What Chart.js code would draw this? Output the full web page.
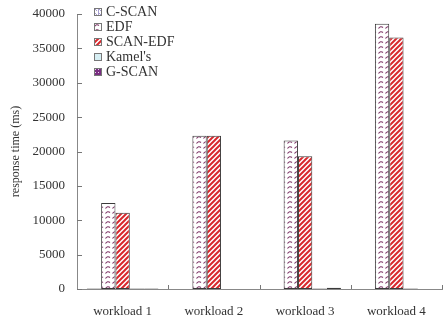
<!DOCTYPE html>
<html>
<head>
<meta charset="utf-8">
<script src="https://cdn.jsdelivr.net/npm/chart.js@4"></script>
<style>
  body { margin: 0; background: #fff; }
  #wrap { position: relative; width: 444px; height: 324px; }
  #legend { position: absolute; left: 94px; top: 4px; font: 14px "Liberation Serif", serif; color: #333; }
  #legend div { height: 15px; line-height: 15px; display: flex; align-items: center; }
  #legend canvas { width: 8px; height: 8px; margin-right: 4px; }
</style>
</head>
<body>
<div id="wrap">
  <canvas id="rtChart" width="444" height="324"></canvas>
  <div id="legend"></div>
</div>
<script>
// workloads and response times (ms) per scheduler
const workloads = ['workload 1', 'workload 2', 'workload 3', 'workload 4'];
const schedulers = ['C-SCAN', 'EDF', 'SCAN-EDF', "Kamel's", 'G-SCAN'];
const cscan = [80, 0, 0, 0];
const edf = [12500, 22300, 21600, 38600];
const scanEdf = [11100, 22300, 19300, 36600];
const kamels = [80, 0, 60, 60];
const gscan = [80, 0, 200, 0];
const yTicks = [0, 5000, 10000, 15000, 20000, 25000, 30000, 35000, 40000];

// small tile painters used for hatched fills
function tile(w, h, draw) {
    const c = document.createElement('canvas');
    c.width = w; c.height = h;
    draw(c.getContext('2d'));
    return c;
}
const tiles = [
    tile(4, 4, g => { // C-SCAN: lavender "N" hatch
        g.fillStyle = '#fff'; g.fillRect(0, 0, 4, 4);
        g.fillStyle = '#a79fd0'; g.fillRect(0, 0, 1, 4);
        g.fillRect(1, 1, 1, 1); g.fillRect(2, 2, 1, 1);
    }),
    tile(7, 5, g => { // EDF: white with small purple waves
        g.fillStyle = '#fff'; g.fillRect(0, 0, 7, 5);
        g.strokeStyle = '#7d3566'; g.lineWidth = 1.1;
        g.beginPath(); g.moveTo(0.5, 3.5); g.quadraticCurveTo(2.5, 0.5, 5, 2.5); g.stroke();
    }),
    tile(5, 5, g => { // SCAN-EDF: red diagonal stripes
        g.fillStyle = '#fff'; g.fillRect(0, 0, 5, 5);
        g.strokeStyle = '#d8282d'; g.lineWidth = 2;
        g.beginPath();
        g.moveTo(-1, 6); g.lineTo(6, -1);
        g.moveTo(-1, 1); g.lineTo(1, -1);
        g.moveTo(4, 6); g.lineTo(6, 4);
        g.stroke();
    }),
    tile(4, 4, g => { g.fillStyle = '#d6eef3'; g.fillRect(0, 0, 4, 4); }),
    tile(3, 3, g => { // G-SCAN: purple with light dots
        g.fillStyle = '#7a2e82'; g.fillRect(0, 0, 3, 3);
        g.fillStyle = '#e9d4ee'; g.fillRect(1, 1, 1, 1);
    })
];

const ctx = document.getElementById('rtChart').getContext('2d');
const fills = tiles.map(t => ctx.createPattern(t, 'repeat'));
const series = [cscan, edf, scanEdf, kamels, gscan];

// inward tick marks on both axes
const inwardTicks = {
    id: 'inwardTicks',
    afterDraw(chart) {
        const g = chart.ctx, x = chart.scales.x, y = chart.scales.y;
        g.save();
        g.strokeStyle = '#777'; g.lineWidth = 1;
        g.beginPath();
        yTicks.forEach(v => {
            const py = Math.round(y.getPixelForValue(v)) + 0.5;
            g.moveTo(x.left, py); g.lineTo(x.left + 5, py);
        });
        const step = x.width / workloads.length;
        for (let i = 1; i <= workloads.length; i++) {
            const px = Math.round(x.left + i * step) + 0.5;
            g.moveTo(px, y.bottom); g.lineTo(px, y.bottom - 4);
        }
        g.stroke();
        g.restore();
    }
};

const axisFont = { family: 'Liberation Serif', size: 13 };

new Chart(ctx, {
    type: 'bar',
    data: {
        labels: workloads,
        datasets: schedulers.map((name, i) => ({
            label: name,
            data: series[i],
            backgroundColor: fills[i],
            borderColor: '#3a3a3a',
            borderWidth: 1,
            borderSkipped: false,
            categoryPercentage: 0.785,
            barPercentage: 1
        }))
    },
    options: {
        responsive: false,
        animation: false,
        layout: { padding: { top: 14, right: 2 } },
        plugins: { legend: { display: false }, tooltip: { enabled: false } },
        scales: {
            x: {
                grid: { display: false, drawTicks: false },
                border: { display: true, color: '#888' },
                ticks: { color: '#333', padding: 15, font: axisFont },
                afterFit: s => { s.height = 35; }
            },
            y: {
                min: 0, max: 40000,
                grid: { display: false, drawTicks: false },
                border: { display: true, color: '#888' },
                ticks: { stepSize: 5000, color: '#333', padding: 12, font: axisFont, callback: v => String(v) },
                title: { display: true, text: 'response time (ms)', color: '#333', padding: { top: 9, bottom: 0 }, font: { family: 'Liberation Serif', size: 12 } },
                afterFit: s => { s.width = 77; s.paddingTop = 0; s.paddingBottom = 0; }
            }
        }
    },
    plugins: [inwardTicks]
});

// legend in the upper left of the plot
const legend = document.getElementById('legend');
schedulers.forEach((name, i) => {
    const row = document.createElement('div');
    const sw = document.createElement('canvas');
    sw.width = 8; sw.height = 8;
    const sg = sw.getContext('2d');
    sg.fillStyle = sg.createPattern(tiles[i], 'repeat');
    sg.fillRect(0, 0, 8, 8);
    sg.strokeStyle = '#777'; sg.strokeRect(0.5, 0.5, 7, 7);
    row.appendChild(sw);
    row.appendChild(document.createTextNode(name));
    legend.appendChild(row);
});
</script>
</body>
</html>
